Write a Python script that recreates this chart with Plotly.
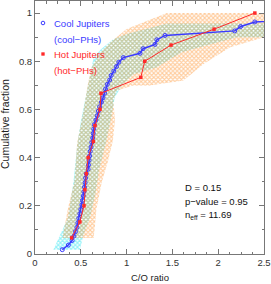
import plotly.graph_objects as go

# ---- data ----
cool_x = [0.298, 0.364, 0.405, 0.425, 0.442, 0.458, 0.468, 0.478, 0.490, 0.500,
          0.511, 0.518, 0.527, 0.534, 0.540, 0.547, 0.552, 0.560, 0.580, 0.584,
          0.590, 0.596, 0.603, 0.612, 0.620, 0.630, 0.636, 0.642, 0.648, 0.665,
          0.680, 0.692, 0.705, 0.725, 0.742, 0.760, 0.770, 0.790, 0.815, 0.832,
          0.860, 0.890, 0.915, 0.964, 1.146, 1.180, 1.310, 1.330, 1.420, 2.180,
          2.245, 2.400, 3.500]
cool_y = [0.018, 0.037, 0.056, 0.074, 0.093, 0.111, 0.130, 0.148, 0.167, 0.185,
          0.204, 0.222, 0.241, 0.259, 0.278, 0.296, 0.315, 0.333, 0.352, 0.370,
          0.389, 0.407, 0.426, 0.444, 0.463, 0.481, 0.500, 0.519, 0.537, 0.556,
          0.574, 0.593, 0.611, 0.630, 0.648, 0.667, 0.685, 0.704, 0.722, 0.741,
          0.759, 0.778, 0.796, 0.815, 0.833, 0.852, 0.870, 0.889, 0.907, 0.926,
          0.944, 0.963, 0.981]

hot_x = [0.400, 0.490, 0.535, 0.545, 0.560, 0.580, 0.637, 0.655, 0.710, 0.720,
         1.155, 1.198, 1.485, 1.955, 2.400]
hot_y = [0.067, 0.133, 0.200, 0.267, 0.333, 0.400, 0.467, 0.533, 0.600, 0.667,
         0.733, 0.800, 0.867, 0.933, 1.000]

# confidence envelopes (polygon outlines)
hot_band_x = [0.30, 0.36, 0.43, 0.46, 0.53, 0.58, 0.62, 0.70, 0.82, 1.00, 1.44, 2.60,
              2.60, 2.50, 2.13, 1.84, 1.62, 1.25, 1.07, 0.89, 0.855, 0.873, 0.85,
              0.80, 0.73, 0.67, 0.655, 0.64]
hot_band_y = [0.066, 0.19, 0.30, 0.46, 0.595, 0.712, 0.775, 0.83, 0.878, 0.934, 1.0, 1.0,
              0.90, 0.90, 0.858, 0.789, 0.72, 0.699, 0.699, 0.678, 0.637, 0.554, 0.47,
              0.39, 0.30, 0.186, 0.12, 0.066]

cool_band_x = [0.20, 0.26, 0.36, 0.42, 0.46, 0.50, 0.55, 0.60, 0.64, 0.72, 0.85, 1.00,
               1.44, 2.60, 2.60, 2.20, 1.60, 1.33, 1.07, 0.95, 0.87, 0.84, 0.78, 0.70,
               0.66, 0.60, 0.53, 0.49]
cool_band_y = [0.018, 0.066, 0.15, 0.30, 0.45, 0.55, 0.65, 0.75, 0.816, 0.85, 0.89, 0.913,
               0.957, 0.957, 0.90, 0.90, 0.837, 0.775, 0.745, 0.70, 0.65, 0.58, 0.47, 0.35,
               0.25, 0.15, 0.08, 0.018]

x_ticks = [0, 0.5, 1, 1.5, 2, 2.5]
x_labels = ["0", "0.5", "1", "1.5", "2", "2.5"]
y_ticks = [0, 0.2, 0.4, 0.6, 0.8, 1]
y_labels = ["0", "0.2", "0.4", "0.6", "0.8", "1"]

stats = ["D = 0.15", "p\u2212value = 0.95", "n<sub>eff</sub> = 11.69"]

BLUE = "#3a3aff"
RED = "#ff2a2a"
ORANGE = "#ff9a3c"
CYAN = "#2ee6f2"
FONT = "Liberation Sans"

fig = go.Figure()

fig.add_trace(go.Scatter(
    x=cool_band_x, y=cool_band_y, mode="lines", fill="toself",
    line=dict(width=0), fillcolor="rgba(0,0,0,0)",
    fillpattern=dict(shape="x", fgcolor=CYAN, bgcolor="rgba(0,0,0,0)", size=3, solidity=0.65),
    hoverinfo="skip", showlegend=False))
fig.add_trace(go.Scatter(
    x=hot_band_x, y=hot_band_y, mode="lines", fill="toself",
    line=dict(width=0), fillcolor="rgba(0,0,0,0)",
    fillpattern=dict(shape="x", fgcolor=ORANGE, bgcolor="rgba(0,0,0,0)", size=3, solidity=0.6),
    hoverinfo="skip", showlegend=False))

fig.add_trace(go.Scatter(
    x=cool_x, y=cool_y, mode="lines+markers",
    line=dict(color=BLUE, width=1.5),
    marker=dict(symbol="circle-open", size=4, color=BLUE, line=dict(width=1)),
    hoverinfo="skip", showlegend=False))
fig.add_trace(go.Scatter(
    x=hot_x, y=hot_y, mode="lines+markers",
    line=dict(color=RED, width=1),
    marker=dict(symbol="square", size=3.5, color=RED),
    hoverinfo="skip", showlegend=False))

L, R, T, B = 35, 7, 1, 30
W, H = 271, 284
pw, ph = W - L - R, H - T - B

def px(xp):
    return (xp - L) / pw

def py(yp):
    return (H - B - yp) / ph

annos = []
shapes = []
legend_items = [("Cool Jupiters", "(cool\u2212PHs)", BLUE, "open", 23),
                ("Hot Jupiters", "(hot\u2212PHs)", RED, "filled", 54)]
for t1, t2, col, kind, ypix in legend_items:
    annos.append(dict(x=px(52), y=py(ypix), xref="paper", yref="paper", text=t1,
                      showarrow=False, xanchor="left", yanchor="middle",
                      font=dict(family=FONT, size=9.5, color=col)))
    annos.append(dict(x=px(52), y=py(ypix + 16), xref="paper", yref="paper", text=t2,
                      showarrow=False, xanchor="left", yanchor="middle",
                      font=dict(family=FONT, size=9.5, color=col)))
    if kind == "open":
        shapes.append(dict(type="circle", xref="paper", yref="paper", xsizemode="pixel",
                           ysizemode="pixel", xanchor=px(43), yanchor=py(ypix),
                           x0=-1.8, x1=1.8, y0=-1.8, y1=1.8,
                           line=dict(color=col, width=1), fillcolor="rgba(0,0,0,0)"))
    else:
        shapes.append(dict(type="rect", xref="paper", yref="paper", xsizemode="pixel",
                           ysizemode="pixel", xanchor=px(43), yanchor=py(ypix),
                           x0=-1.4, x1=1.4, y0=-1.4, y1=1.4,
                           line=dict(color=col, width=0.5), fillcolor=col))

for i, s in enumerate(stats):
    annos.append(dict(x=px(183), y=py(187 + 14 * i), xref="paper", yref="paper", text=s,
                      showarrow=False, xanchor="left", yanchor="middle",
                      font=dict(family=FONT, size=9.5, color="#111")))

annos.append(dict(x=px(5), y=py(124), xref="paper", yref="paper", text="Cumulative fraction",
                  showarrow=False, textangle=-90, xanchor="center", yanchor="middle",
                  font=dict(family=FONT, size=10.5, color="#222")))
annos.append(dict(x=px(150), y=py(277), xref="paper", yref="paper", text="C/O ratio",
                  showarrow=False, xanchor="center", yanchor="middle",
                  font=dict(family=FONT, size=9.5, color="#222")))

axis_common = dict(showline=True, linecolor="#777", linewidth=1, mirror="allticks",
                   ticks="inside", ticklen=5, tickcolor="#777", tickwidth=1,
                   showgrid=False, zeroline=False,
                   tickfont=dict(family=FONT, size=9.5, color="#333"))

fig.update_layout(
    width=W, height=H, margin=dict(l=L, r=R, t=T, b=B),
    paper_bgcolor="white", plot_bgcolor="white",
    hovermode=False,
    xaxis=dict(range=[0, 2.5], tickvals=x_ticks, ticktext=x_labels,
               minor=dict(dtick=0.125, tick0=0, ticks="inside", ticklen=2.5, tickcolor="#777"),
               **axis_common),
    yaxis=dict(range=[0, 1.05], tickvals=y_ticks, ticktext=y_labels,
               minor=dict(dtick=0.1, tick0=0, ticks="inside", ticklen=2.5, tickcolor="#777"),
               **axis_common),
    annotations=annos, shapes=shapes, showlegend=False,
)

fig.write_html("out.html", config={"displayModeBar": False, "staticPlot": True},
               post_script="document.body.style.margin='0';document.body.style.overflow='hidden';")
